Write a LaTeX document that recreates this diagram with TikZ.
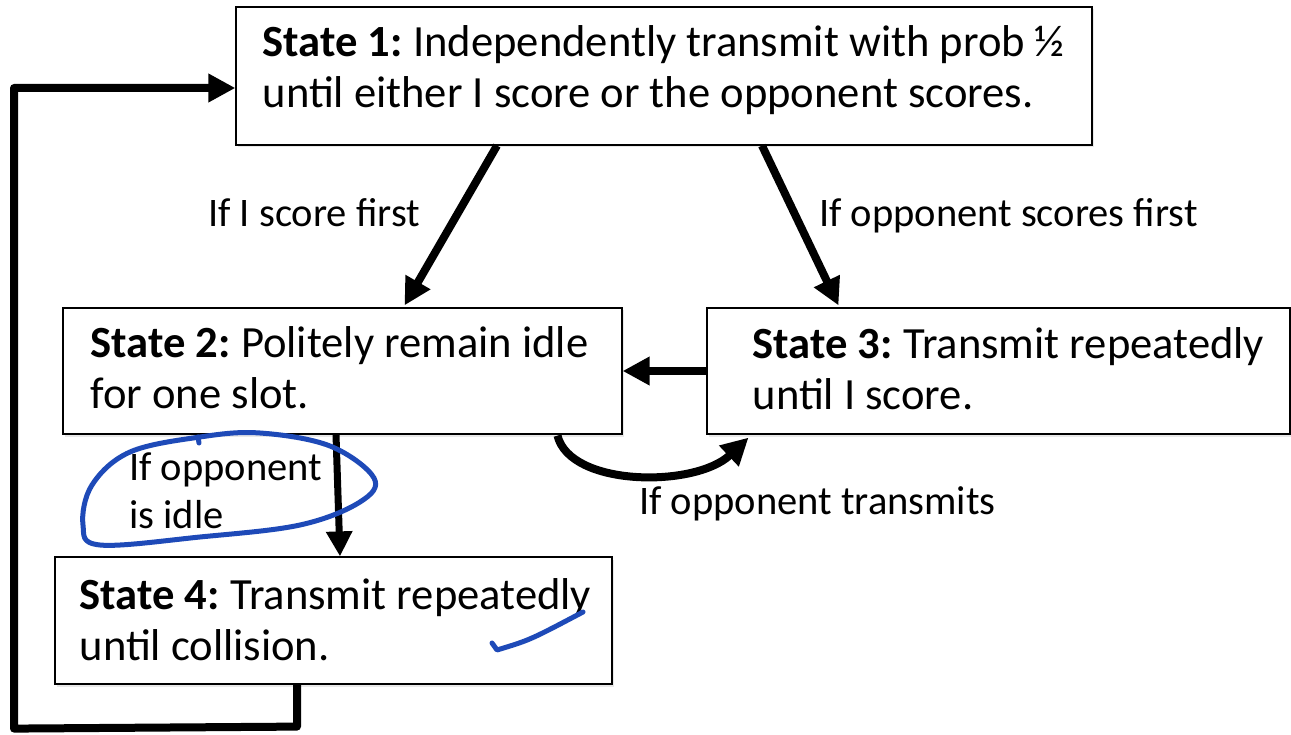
\documentclass[tikz,border=0pt]{standalone}
\usepackage{fontspec}
\setmainfont{Carlito}
\usetikzlibrary{arrows.meta,shadows}

\begin{document}
\begin{tikzpicture}[x=1pt,y=-1pt]
\tikzstyle{state}=[rectangle, draw=black, line width=1.2pt, fill=white, inner sep=0pt, drop shadow={shadow xshift=1.5pt, shadow yshift=-2.5pt, opacity=0.18}]
\tikzstyle{txt}=[anchor=base west, inner sep=0pt, align=left, font=\fontsize{44.6}{51}\selectfont]
\tikzstyle{lbl}=[anchor=base west, inner sep=0pt, align=left, font=\fontsize{40.5}{48}\selectfont]
\tikzstyle{connect}=[line width=8pt, -{Triangle[length=27pt, width=27pt]}]
\tikzstyle{ink}=[draw={rgb,255:red,30;green,74;blue,184}, line width=5pt, line cap=round, line join=round]

\useasboundingbox (0,0) rectangle (1291,735);

  % the four states
  \node[state, minimum width=856pt, minimum height=138pt] (s1) at (664,76) {};
  \node[state, minimum width=559pt, minimum height=126pt] (s2) at (342.5,371) {};
  \node[state, minimum width=583pt, minimum height=126pt] (s3) at (998.5,371) {};
  \node[state, minimum width=557pt, minimum height=127pt] (s4) at (333.5,620.5) {};

  \node[txt] (t1) at ([xshift=27pt, yshift=-32pt]s1.west) {\textbf{State 1:}\hspace{-3pt} Independently transmit with prob ½\\until either I score or the opponent scores.};
  \node[txt] (t2) at ([xshift=28pt, yshift=-37pt]s2.west) {\textbf{State 2:}\hspace{-3pt} Politely remain idle\\for one slot.};
  \node[txt] (t3) at ([xshift=46pt, yshift=-38pt]s3.west) {\textbf{State 3:}\hspace{-3pt} Transmit repeatedly\\until I score.};
  \node[txt] (t4) at ([xshift=25pt, yshift=-39.5pt]s4.west) {\textbf{State 4:}\hspace{-3pt} Transmit repeatedly\\until collision.};

  % transitions
  \draw[connect] ([xshift=-167pt]s1.south) -- ([xshift=62pt, yshift=2pt]s2.north);
  \draw[connect] ([xshift=98pt]s1.south) -- ([xshift=-160pt, yshift=2pt]s3.north);
  \draw[connect] (s3.west) -- (s2.east);
  \draw[line width=7pt, -{Triangle[length=25pt, width=25pt]}] ([xshift=-6.5pt]s2.south) -- ([xshift=6.5pt]s4.north);
  \draw[connect] ([xshift=215pt, yshift=-1pt]s2.south) .. controls (570,487) and (695,488) .. ([xshift=-250pt, yshift=-3pt]s3.south);
  \draw[connect, line join=round] ([xshift=-36.5pt]s4.south) -- ++(0,42) -- ++(-283,2) |- ([yshift=-12pt]s1.west);

  % labels
  \node[lbl] (l1) at (208,227) {If I score first};
  \node[lbl] (l2) at (819,227) {If opponent scores first};
  \node[lbl] (l3) at (639,514) {If opponent transmits};
  \node[lbl] (l4) at (129,528) {If opponent\\is idle};

  % hand-drawn marks
  \draw[ink] plot[smooth cycle, tension=0.6] coordinates {(200,437) (260,433) (330,446) (374,478) (360,502) (300,525) (200,537) (100,545) (83,525) (92,485) (130,452)};
  \draw[ink] (198,437) -- (199,443);
  \draw[ink] (492,643) -- (497,650) .. controls (530,640) .. (583,612);
\end{tikzpicture}
\end{document}
